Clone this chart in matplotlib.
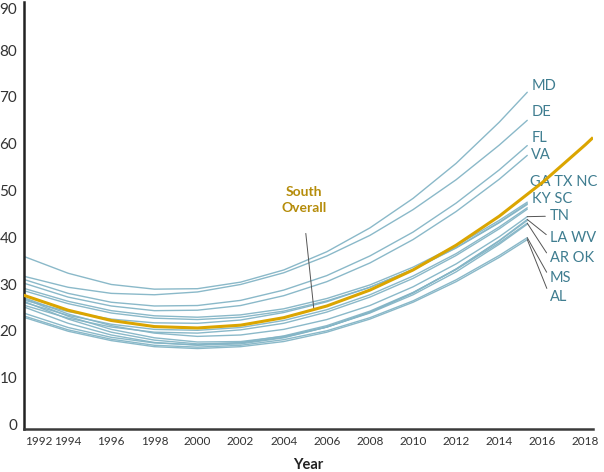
import numpy as np
import matplotlib.pyplot as plt

# années (courbes de tendance par état, fin en 2015.3)
years = [1992, 1994, 1996, 1998, 2000, 2002, 2004, 2006, 2008, 2010, 2012, 2014, 2015.3]
overall_years = [1992, 1994, 1996, 1998, 2000, 2002, 2004, 2006, 2008, 2010,
                 2012, 2014, 2016, 2018, 2018.3]

south_overall = [27.5, 24.4, 22.2, 20.9, 20.6, 21.2, 22.8, 25.3, 28.7, 33.0,
                 38.3, 44.5, 51.7, 59.8, 61.1]

md = [35.8, 32.3, 29.9, 28.9, 29.0, 30.4, 33.0, 36.9, 42.0, 48.3, 55.8, 64.6, 71.0]
de = [31.6, 29.3, 28.0, 27.7, 28.3, 29.9, 32.4, 36.0, 40.4, 45.9, 52.3, 59.7, 65.0]
fl = [30.9, 28.0, 26.1, 25.3, 25.4, 26.5, 28.7, 31.8, 36.0, 41.1, 47.3, 54.4, 59.6]
va = [30.1, 27.2, 25.3, 24.3, 24.4, 25.4, 27.5, 30.5, 34.5, 39.5, 45.5, 52.4, 57.5]
ga = [29.0, 26.3, 24.3, 23.2, 22.9, 23.4, 24.7, 26.9, 29.8, 33.6, 38.2, 43.6, 47.5]
nc = [28.5, 25.8, 23.8, 22.7, 22.4, 22.9, 24.2, 26.4, 29.3, 33.1, 37.7, 43.1, 47.0]
tx = [26.5, 24.1, 22.5, 21.7, 21.6, 22.3, 23.9, 26.2, 29.3, 33.1, 37.8, 43.2, 47.2]
ky = [26.0, 23.3, 21.4, 20.3, 20.1, 20.7, 22.2, 24.5, 27.7, 31.7, 36.5, 42.2, 46.3]
sc = [25.4, 22.7, 20.8, 19.7, 19.5, 20.2, 21.6, 24.0, 27.2, 31.2, 36.1, 41.8, 46.0]
tn = [27.0, 23.6, 21.1, 19.5, 18.8, 19.1, 20.3, 22.4, 25.4, 29.4, 34.3, 40.1, 44.4]
la = [26.2, 22.5, 19.7, 18.0, 17.2, 17.4, 18.6, 20.8, 23.9, 28.1, 33.2, 39.3, 43.8]
wv = [25.0, 21.6, 19.1, 17.5, 16.9, 17.2, 18.5, 20.8, 24.0, 28.1, 33.2, 39.2, 43.6]
ar = [23.7, 20.7, 18.6, 17.4, 17.0, 17.5, 18.9, 21.1, 24.2, 28.2, 33.1, 38.8, 43.0]
ok = [26.8, 23.1, 20.3, 18.5, 17.6, 17.7, 18.8, 20.8, 23.8, 27.7, 32.6, 38.5, 42.8]
ms = [23.1, 20.2, 18.2, 16.9, 16.5, 16.9, 18.1, 20.0, 22.8, 26.4, 30.9, 36.1, 39.9]
al = [22.8, 19.9, 17.9, 16.6, 16.2, 16.6, 17.7, 19.7, 22.5, 26.1, 30.5, 35.7, 39.5]

states = {'MD': md, 'DE': de, 'FL': fl, 'VA': va, 'GA': ga, 'NC': nc, 'TX': tx,
          'KY': ky, 'SC': sc, 'TN': tn, 'LA': la, 'WV': wv, 'AR': ar, 'OK': ok,
          'MS': ms, 'AL': al}

# étiquettes: (texte, état de référence, position x, position y, avec trait)
labels = [
    ('MD', 'MD', 2015.48, 72.3, False),
    ('DE', 'DE', 2015.48, 66.8, False),
    ('FL', 'FL', 2015.48, 61.2, False),
    ('VA', 'VA', 2015.48, 57.6, False),
    ('GA TX NC', 'GA', 2015.43, 51.9, False),
    ('KY SC', 'KY', 2015.53, 48.1, False),
    ('TN', 'TN', 2016.33, 44.5, True),
    ('LA WV', 'LA', 2016.36, 39.9, True),
    ('AR OK', 'AR', 2016.36, 35.5, True),
    ('MS', 'MS', 2016.36, 31.2, True),
    ('AL', 'AL', 2016.36, 27.3, True),
]

plt.rcParams['font.family'] = ['Lato', 'DejaVu Sans']

fig = plt.figure(figsize=(6.04, 4.72), dpi=100)
ax = fig.add_axes([0.0397, 0.0911, 0.9421, 0.9047])

line_color = '#84b5c6'
for name, vals in states.items():
    ax.plot(years, vals, color=line_color, lw=1.0, alpha=0.95, solid_capstyle='round')

ax.plot(overall_years, south_overall, color='#dba500', lw=2.2, zorder=5)

for txt, ref, lx, ly, leader in labels:
    vals = states[ref]
    if leader:
        ax.annotate(txt, xy=(years[-1], vals[-1]), xytext=(lx, ly),
                    ha='left', va='center', fontsize=10.5, color='#3f7d90',
                    arrowprops=dict(arrowstyle='-', color='#555555', lw=0.7,
                                    shrinkA=1, shrinkB=0, relpos=(0, 0.5)))
    else:
        ax.text(lx, ly, txt, ha='left', va='center', fontsize=10.5, color='#3f7d90')

# étiquette "South Overall"
target_year = 2005.4
target_val = np.interp(target_year, overall_years, south_overall)
ax.annotate('South\nOverall', xy=(target_year, target_val), xytext=(2004.93, 48.0),
            ha='center', va='center', fontsize=10, fontweight='bold', color='#b58c0a',
            linespacing=1.45,
            arrowprops=dict(arrowstyle='-', color='#555555', lw=0.7,
                            shrinkA=12, shrinkB=0, relpos=(0.5, 0.0)))

ax.set_xlim(1991.95, 2018.35)
ax.set_ylim(-1.0, 90.3)
ax.set_xticks(range(1992, 2019, 2))
ax.set_yticks(range(0, 91, 10))
ax.tick_params(axis='both', length=0)
ax.tick_params(axis='x', labelsize=8.5, colors='#333333', pad=5)
ax.tick_params(axis='y', labelsize=11, colors='#333333', pad=5)
xl = ax.get_xticklabels()
xl[0].set_horizontalalignment('left')
yl = ax.get_yticklabels()
yl[-1].set_verticalalignment('top')

ax.set_xlabel('Year', fontsize=10.5, fontweight='bold', color='#222222', labelpad=8)

for s in ['top', 'right']:
    ax.spines[s].set_visible(False)
ax.spines['left'].set_color('#222222')
ax.spines['left'].set_linewidth(1.8)
ax.spines['bottom'].set_color('#3a3a3a')
ax.spines['bottom'].set_linewidth(1.8)

plt.savefig('out.png', dpi=100)
